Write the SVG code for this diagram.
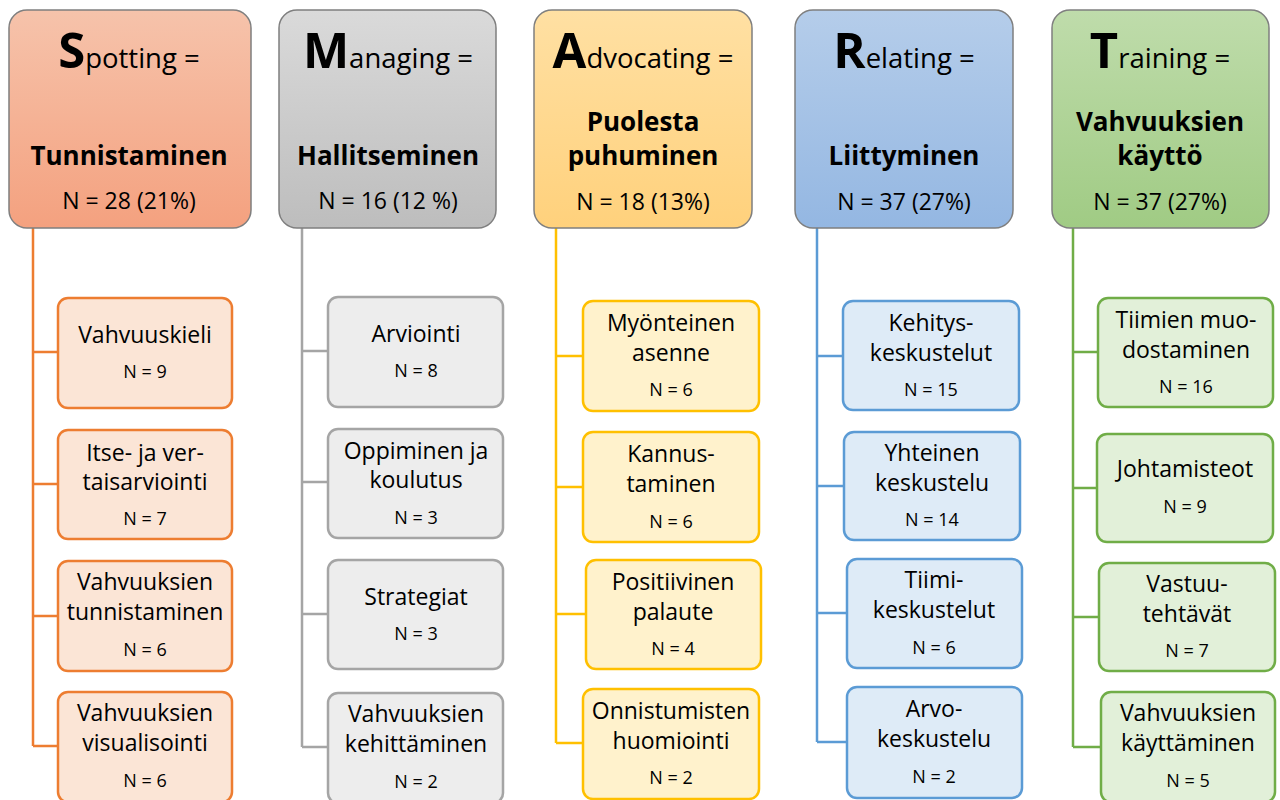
<svg xmlns="http://www.w3.org/2000/svg" width="1280" height="800" viewBox="0 0 1280 800">
<defs>
<linearGradient id="gS" x1="0" y1="0" x2="0" y2="1"><stop offset="0" stop-color="#f6c3ab"/><stop offset="1" stop-color="#f4a17f"/></linearGradient>
<linearGradient id="gM" x1="0" y1="0" x2="0" y2="1"><stop offset="0" stop-color="#dadada"/><stop offset="1" stop-color="#bdbdbd"/></linearGradient>
<linearGradient id="gA" x1="0" y1="0" x2="0" y2="1"><stop offset="0" stop-color="#ffe0a3"/><stop offset="1" stop-color="#ffd17c"/></linearGradient>
<linearGradient id="gR" x1="0" y1="0" x2="0" y2="1"><stop offset="0" stop-color="#b5cdea"/><stop offset="1" stop-color="#94b7e2"/></linearGradient>
<linearGradient id="gT" x1="0" y1="0" x2="0" y2="1"><stop offset="0" stop-color="#bfdcab"/><stop offset="1" stop-color="#a0cb84"/></linearGradient>
</defs>
<style>
text{font-family:"Open Sans",Lato,"Liberation Sans",sans-serif;fill:#000;text-anchor:middle}
.hb{stroke:#7f7f7f;stroke-width:1.5}
.big{font-size:49px;font-weight:bold}
.tt{font-size:27.5px}
.sub{font-size:26px;font-weight:bold}
.hn{font-size:23px}
.lb{font-size:23px}
.n{font-size:18px}
.cb{stroke-width:2.5}
.con{fill:none;stroke-width:2.5}
.o .cb{fill:#fbe5d6;stroke:#ed7d31}
.g .cb{fill:#ededed;stroke:#a5a5a5}
.y .cb{fill:#fff2cc;stroke:#ffc000}
.b .cb{fill:#deebf7;stroke:#5b9bd5}
.v .cb{fill:#e2f0d9;stroke:#70ad47}
</style>
<g id="connectors">
<path class="con" stroke="#ed7d31" d="M33 228V746M33 352H58M33 484H58M33 616H58M33 746H58"/>
<path class="con" stroke="#a5a5a5" d="M302 228V747M302 351H328M302 482H328M302 614H328M302 747H328"/>
<path class="con" stroke="#ffc000" d="M556 228V743M556 356H583M556 487H583M556 614H586M556 743H583"/>
<path class="con" stroke="#5b9bd5" d="M817 228V742M817 356H843M817 486H844M817 613H847M817 742H847"/>
<path class="con" stroke="#70ad47" d="M1073 228V747M1073 352H1098M1073 488H1097M1073 617H1099M1073 747H1101"/>
</g>
<g id="spotting">
<rect class="hb" x="9" y="10" width="242" height="218" rx="18" fill="url(#gS)"/>
<text x="129" y="68"><tspan class="big">S</tspan><tspan class="tt">potting =</tspan></text>
<text class="sub" x="129" y="165">Tunnistaminen</text>
<text class="hn" x="129" y="209">N = 28 (21%)</text>
</g>
<g id="managing">
<rect class="hb" x="279" y="10" width="217" height="218" rx="18" fill="url(#gM)"/>
<text x="388" y="68"><tspan class="big">M</tspan><tspan class="tt">anaging =</tspan></text>
<text class="sub" x="388" y="165">Hallitseminen</text>
<text class="hn" x="388" y="209">N = 16 (12 %)</text>
</g>
<g id="advocating">
<rect class="hb" x="534" y="10" width="218" height="218" rx="18" fill="url(#gA)"/>
<text x="643" y="68"><tspan class="big">A</tspan><tspan class="tt">dvocating =</tspan></text>
<text class="sub" x="643" y="131">Puolesta</text>
<text class="sub" x="643" y="165">puhuminen</text>
<text class="hn" x="643" y="210">N = 18 (13%)</text>
</g>
<g id="relating">
<rect class="hb" x="795" y="10" width="218" height="218" rx="18" fill="url(#gR)"/>
<text x="904" y="68"><tspan class="big">R</tspan><tspan class="tt">elating =</tspan></text>
<text class="sub" x="904" y="165">Liittyminen</text>
<text class="hn" x="904" y="210">N = 37 (27%)</text>
</g>
<g id="training">
<rect class="hb" x="1052" y="10" width="217" height="218" rx="18" fill="url(#gT)"/>
<text x="1160" y="68"><tspan class="big">T</tspan><tspan class="tt">raining =</tspan></text>
<text class="sub" x="1160" y="131">Vahvuuksien</text>
<text class="sub" x="1160" y="165">käyttö</text>
<text class="hn" x="1160" y="210">N = 37 (27%)</text>
</g>

<g id="s1" class="o"><rect class="cb" x="58" y="298" width="174" height="110" rx="10"/><text class="lb" x="145" y="343">Vahvuuskieli</text><text class="n" x="145" y="378">N = 9</text></g>
<g id="s2" class="o"><rect class="cb" x="58" y="430" width="174" height="109" rx="10"/><text class="lb" x="145" y="461">Itse- ja ver-</text><text class="lb" x="145" y="490">taisarviointi</text><text class="n" x="145" y="525">N = 7</text></g>
<g id="s3" class="o"><rect class="cb" x="58" y="561" width="174" height="110" rx="10"/><text class="lb" x="145" y="590">Vahvuuksien</text><text class="lb" x="145" y="620">tunnistaminen</text><text class="n" x="145" y="656">N = 6</text></g>
<g id="s4" class="o"><rect class="cb" x="58" y="692" width="174" height="110" rx="10"/><text class="lb" x="145" y="721">Vahvuuksien</text><text class="lb" x="145" y="751">visualisointi</text><text class="n" x="145" y="787">N = 6</text></g>

<g id="m1" class="g"><rect class="cb" x="328" y="297" width="175" height="110" rx="10"/><text class="lb" x="416" y="342">Arviointi</text><text class="n" x="416" y="377">N = 8</text></g>
<g id="m2" class="g"><rect class="cb" x="328" y="429" width="175" height="109" rx="10"/><text class="lb" x="416" y="459">Oppiminen ja</text><text class="lb" x="416" y="488">koulutus</text><text class="n" x="416" y="524">N = 3</text></g>
<g id="m3" class="g"><rect class="cb" x="328" y="560" width="175" height="109" rx="10"/><text class="lb" x="416" y="605">Strategiat</text><text class="n" x="416" y="640">N = 3</text></g>
<g id="m4" class="g"><rect class="cb" x="328" y="693" width="175" height="110" rx="10"/><text class="lb" x="416" y="722">Vahvuuksien</text><text class="lb" x="416" y="752">kehittäminen</text><text class="n" x="416" y="788">N = 2</text></g>

<g id="a1" class="y"><rect class="cb" x="583" y="301" width="176" height="110" rx="10"/><text class="lb" x="671" y="331">Myönteinen</text><text class="lb" x="671" y="361">asenne</text><text class="n" x="671" y="396">N = 6</text></g>
<g id="a2" class="y"><rect class="cb" x="583" y="432" width="176" height="110" rx="10"/><text class="lb" x="671" y="462">Kannus-</text><text class="lb" x="671" y="492">taminen</text><text class="n" x="671" y="528">N = 6</text></g>
<g id="a3" class="y"><rect class="cb" x="586" y="560" width="175" height="109" rx="10"/><text class="lb" x="673" y="590">Positiivinen</text><text class="lb" x="673" y="620">palaute</text><text class="n" x="673" y="655">N = 4</text></g>
<g id="a4" class="y"><rect class="cb" x="583" y="689" width="176" height="110" rx="10"/><text class="lb" x="671" y="719">Onnistumisten</text><text class="lb" x="671" y="749">huomiointi</text><text class="n" x="671" y="784">N = 2</text></g>

<g id="r1" class="b"><rect class="cb" x="843" y="301" width="176" height="109" rx="10"/><text class="lb" x="931" y="331">Kehitys-</text><text class="lb" x="931" y="361">keskustelut</text><text class="n" x="931" y="396">N = 15</text></g>
<g id="r2" class="b"><rect class="cb" x="844" y="432" width="176" height="108" rx="10"/><text class="lb" x="932" y="461">Yhteinen</text><text class="lb" x="932" y="491">keskustelu</text><text class="n" x="932" y="526">N = 14</text></g>
<g id="r3" class="b"><rect class="cb" x="847" y="559" width="175" height="109" rx="10"/><text class="lb" x="934" y="588">Tiimi-</text><text class="lb" x="934" y="618">keskustelut</text><text class="n" x="934" y="654">N = 6</text></g>
<g id="r4" class="b"><rect class="cb" x="847" y="687" width="175" height="111" rx="10"/><text class="lb" x="934" y="717">Arvo-</text><text class="lb" x="934" y="747">keskustelu</text><text class="n" x="934" y="783">N = 2</text></g>

<g id="t1" class="v"><rect class="cb" x="1098" y="298" width="175" height="109" rx="10"/><text class="lb" x="1186" y="328">Tiimien muo-</text><text class="lb" x="1186" y="358">dostaminen</text><text class="n" x="1186" y="393">N = 16</text></g>
<g id="t2" class="v"><rect class="cb" x="1097" y="434" width="176" height="108" rx="10"/><text class="lb" x="1185" y="477">Johtamisteot</text><text class="n" x="1185" y="513">N = 9</text></g>
<g id="t3" class="v"><rect class="cb" x="1099" y="563" width="176" height="108" rx="10"/><text class="lb" x="1187" y="592">Vastuu-</text><text class="lb" x="1187" y="622">tehtävät</text><text class="n" x="1187" y="657">N = 7</text></g>
<g id="t4" class="v"><rect class="cb" x="1101" y="692" width="174" height="110" rx="10"/><text class="lb" x="1188" y="721">Vahvuuksien</text><text class="lb" x="1188" y="751">käyttäminen</text><text class="n" x="1188" y="787">N = 5</text></g>
</svg>
